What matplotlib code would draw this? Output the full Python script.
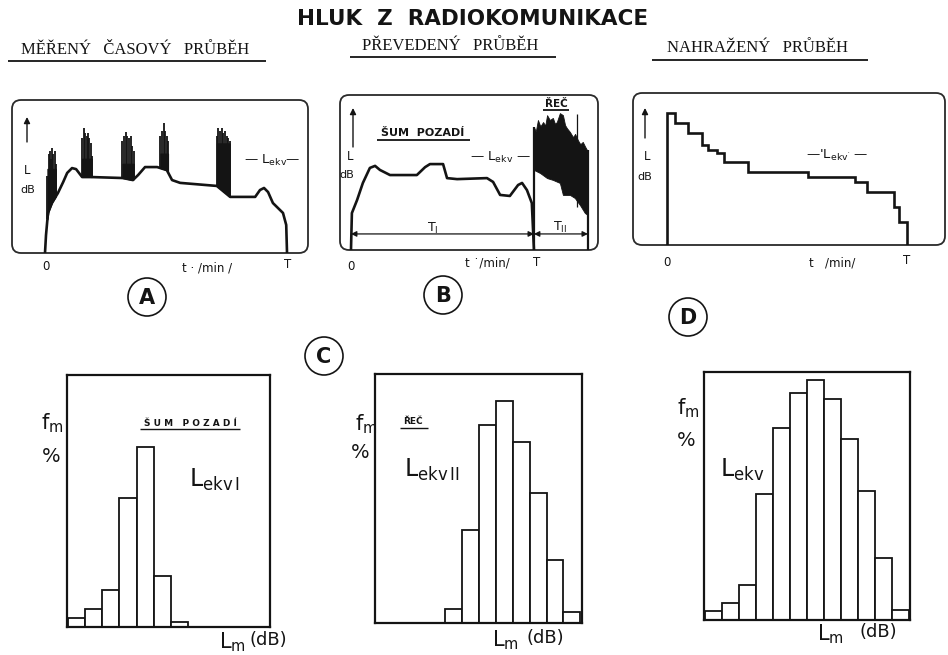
import numpy as np
import matplotlib
matplotlib.use("Agg")
import matplotlib.pyplot as plt
from matplotlib.patches import FancyBboxPatch, Circle

W, H = 948, 655

# ---------------- data ----------------
title = "HLUK  Z  RADIOKOMUNIKACE"
headers = ["MĚŘENÝ   ČASOVÝ   PRŮBĚH", "PŘEVEDENÝ   PRŮBĚH", "NAHRAŽENÝ   PRŮBĚH"]

# Panel A - measured time course (t in min, L in dB)
a_t = [0, 0.25, 0.74, 1.7, 3.2, 4.5, 5.5, 6.7, 7.7, 9.2, 11.2, 19.3, 21.8, 23.1, 24.8,
       27.8, 30.2, 31.5, 33.5, 42.6, 45.9, 52.1, 53.3, 54.3, 55.3, 56.5, 59.0, 59.8, 60]
a_L = [40, 47, 55.7, 59.6, 63.5, 67.8, 71.4, 73.3, 72.9, 69.8, 69.8, 69.4, 68.6, 70.6, 73.7,
       73.7, 72.5, 68.6, 67.5, 66.3, 62.0, 62.0, 64.7, 65.5, 63.9, 59.6, 55.7, 51.0, 40]
# noise bursts: spike times, spike peaks, dense level
a_burst_t = [[0.6, 0.9, 1.2, 1.5, 1.8, 2.1, 2.4, 2.7],
             [9.2, 9.6, 9.9, 10.3, 10.6, 11.0, 11.3, 11.6],
             [19.2, 19.6, 20.0, 20.4, 20.8, 21.2, 21.6, 22.0],
             [28.6, 29.0, 29.4, 29.8, 30.2, 30.5],
             [42.6, 43.0, 43.4, 43.8, 44.2, 44.6, 45.0, 45.4, 45.8]]
a_burst_L = [[70, 79, 80, 77, 81, 79, 80, 75],
             [85, 89, 87, 86, 87, 85, 83, 78],
             [84, 86, 87.5, 86, 85, 86, 82, 80],
             [86, 88, 91, 88, 86, 84],
             [86, 89, 88, 89, 87, 88, 86, 85, 84]]
a_burst_dense = [73, 77, 75, 79, 83]

# Panel B - converted course: background noise + speech
b_t = [0, 0.3, 2.0, 3.9, 6.2, 7.9, 9.5, 12.8, 21.6, 24.3, 25.9, 30.2, 31.5, 34.8, 44.6,
       46.6, 48.9, 52.1, 54.8, 56.1, 57.7, 59.3, 60]
b_L = [40, 54.5, 59.6, 66.3, 72.2, 73, 71.4, 69.4, 69.4, 72.5, 73.7, 73.7, 68.2, 67.8, 68.2,
       66.7, 61.6, 61.2, 65.5, 66.3, 63.5, 58.4, 40]
speech_top_t = [60, 60.6, 61.3, 62.1, 63, 63.7, 64.3, 65.2, 66.2, 66.9, 67.5, 68.5, 69.5,
                70.2, 70.8, 71.8, 72.8, 73.5, 74.4, 75.2, 76, 76.8, 77.4, 77.7]
speech_top_L = [88.2, 86.5, 91, 88.5, 90.2, 88.8, 92.9, 91, 91.8, 89.5, 90.2, 93.7, 92.9,
                89, 87.8, 86.3, 84.3, 85.5, 83.1, 81.5, 82.4, 80.5, 79.2, 79.2]
speech_bot_t = [60, 62, 64.3, 66.2, 68.5, 69.5, 71.8, 73.4, 75.1, 76.7, 77.7]
speech_bot_L = [71.4, 70.2, 68.2, 67.5, 66.3, 61.6, 61.6, 60.4, 57.6, 54.5, 53.7]
b_T, b_end = 60, 77.7

# Panel D - substituted (stepped) course
d_edges = [0, 2.1, 5.3, 8.7, 10.3, 12.4, 14.3, 20.3, 35.3, 47, 49.9, 56.8, 58.1, 60]
d_levels = [91.6, 87.7, 84, 79.2, 77.3, 76, 72.7, 68.7, 66.8, 64.8, 60.9, 55, 49.1]

# Histograms (f_m in %, per L_m class)
h1_bins = [0, 1, 2, 3, 4, 5, 6]
h1_f = [3.6, 7.2, 14.7, 51, 71.3, 20.3, 2]
h2_bins = [4, 5, 6, 7, 8, 9, 10, 11]
h2_f = [5.6, 37.3, 79.5, 89.2, 72.7, 52.2, 25.3, 4.4]
h3_bins = [0, 1, 2, 3, 4, 5, 6, 7, 8, 9, 10, 11]
h3_f = [3.6, 6.9, 14.1, 50.8, 77.4, 91.5, 96.8, 89.1, 73, 52, 25, 4]

INK = "#141414"

fig = plt.figure(figsize=(W / 100, H / 100), dpi=100)
ov = fig.add_axes([0, 0, 1, 1])
ov.set_xlim(0, W)
ov.set_ylim(H, 0)
ov.axis("off")


def px_axes(x0, y0, x1, y1):
    ax = fig.add_axes([x0 / W, 1 - y1 / H, (x1 - x0) / W, (y1 - y0) / H])
    ax.set_facecolor("none")
    return ax


def txt(x, y, s, size=9, **kw):
    kw.setdefault("ha", "center")
    kw.setdefault("va", "center")
    kw.setdefault("color", INK)
    ov.text(x, y, s, fontsize=size, **kw)


def uline(x0, x1, y, lw=1.2):
    ov.plot([x0, x1], [y, y], color=INK, lw=lw, solid_capstyle="butt")


# ---- titles ----
txt(473, 19, title, 15.5, fontweight="bold", family="DejaVu Sans")
hx = [(135, 50, 8, 266, 61), (450, 46, 350, 556, 57), (758, 48, 652, 868, 60)]
for s, (cx, cy, u0, u1, uy) in zip(headers, hx):
    txt(cx, cy, s, 12, family="Liberation Serif", fontstretch="condensed")
    uline(u0, u1, uy, 1.3)

# ---- frames for top panels ----
for (x0, y0, x1, y1) in [(12, 100, 308, 253), (340, 95, 598, 250), (633, 93, 945, 245)]:
    ov.add_patch(FancyBboxPatch((x0, y0), x1 - x0, y1 - y0,
                                boxstyle="round,pad=0,rounding_size=9",
                                fill=False, ec="#2a2a2a", lw=1.3))

# ---- Panel A ----
axA = px_axes(12, 100, 308, 253)
axA.set_xlim(-8.18, 65.2)
axA.set_ylim(40, 100)
axA.axis("off")
axA.plot(a_t, a_L, color=INK, lw=1.9, solid_joinstyle="round")
for bt, bl, dense in zip(a_burst_t, a_burst_L, a_burst_dense):
    bt = np.asarray(bt)
    base = np.interp(bt, a_t, a_L)
    axA.fill_between(bt, base, np.maximum(base, dense), color=INK, lw=0.8)
    axA.vlines(bt, base, bl, color=INK, lw=1.3)

# ---- Panel B ----
axB = px_axes(340, 95, 598, 250)
axB.set_xlim(-3.6, 81.0)
axB.set_ylim(40, 100.8)
axB.axis("off")
axB.plot(b_t, b_L, color=INK, lw=1.9, solid_joinstyle="round")
tt = np.union1d(speech_top_t, speech_bot_t)
axB.fill_between(tt, np.interp(tt, speech_bot_t, speech_bot_L),
                 np.interp(tt, speech_top_t, speech_top_L), color=INK, lw=0.6)
axB.vlines([b_T], 40, speech_top_L[0], color=INK, lw=1.6)
axB.vlines([b_end], 40, speech_top_L[-1], color=INK, lw=1.6)
axB.vlines([74.1], 57, 93.5, color=INK, lw=0.9)
arrow_L = 46.3
axB.annotate("", xy=(0, arrow_L), xytext=(b_T, arrow_L),
             arrowprops=dict(arrowstyle="<|-|>", color=INK, lw=0.9,
                             mutation_scale=8, shrinkA=0, shrinkB=0))
axB.annotate("", xy=(b_T, arrow_L), xytext=(b_end, arrow_L),
             arrowprops=dict(arrowstyle="<|-|>", color=INK, lw=0.9,
                             mutation_scale=8, shrinkA=0, shrinkB=0))

# ---- Panel D ----
axD = px_axes(633, 93, 945, 245)
axD.set_xlim(-8.5, 69.5)
axD.set_ylim(40, 99.6)
axD.axis("off")
axD.stairs(d_levels, d_edges, baseline=40, color=INK, lw=1.9)

# ---- panel annotations ----
for (ax_x, y_top, y_bot, lx, ly, dbx, dby) in [(27, 117, 142, 27, 170, 28, 190),
                                               (353, 108, 147, 350, 157, 347, 175),
                                               (645, 108, 138, 647, 157, 645, 177)]:
    ov.annotate("", xy=(ax_x, y_top), xytext=(ax_x, y_bot),
                arrowprops=dict(arrowstyle="-|>", color=INK, lw=1.0, mutation_scale=9,
                                shrinkA=0, shrinkB=0))
    txt(lx, ly, "L", 8.5)
    txt(dbx, dby, "dB", 8)

txt(46, 266, "0", 8.5)
txt(207, 268, "t · /min /", 8.5)
txt(288, 264, "T", 8.5)
txt(272, 160, r"— $\mathregular{L_{ekv}}$—", 9.5)

txt(351, 266, "0", 8.5)
txt(487, 263, "t ˙/min/", 8.5)
txt(537, 262, "T", 8.5)
txt(500, 157, r"— $\mathregular{L_{ekv}}$ —", 9.5)
txt(423, 133, "ŠUM  POZADÍ", 8, fontweight="bold")
uline(377, 470, 140, 1.3)
txt(556, 104, "ŘEČ", 7.5, fontweight="bold")
uline(543, 569, 110, 1.3)
txt(433, 228, r"$\mathregular{T_I}$", 9)
txt(560, 227, r"$\mathregular{T_{II}}$", 9)

txt(667, 263, "0", 8.5)
txt(832, 263, "t   /min/", 8.5)
txt(907, 261, "T", 8.5)
txt(837, 155, r"—'$\mathregular{L_{ekv'}}$ —", 9.5)

# ---- circled letters ----
for (cx, cy, s) in [(147, 297, "A"), (443, 295, "B"), (324, 356, "C"), (688, 317, "D")]:
    ov.add_patch(Circle((cx, cy), 19, fill=False, ec=INK, lw=1.2))
    txt(cx, cy + 1, s, 15, fontweight="bold")

# ---- histograms ----
hists = [((67, 375, 270, 627), h1_bins, h1_f, (-0.05, 11.75)),
         ((375, 374, 582, 623), h2_bins, h2_f, (-0.15, 12.1)),
         ((704, 372, 910, 620), h3_bins, h3_f, (-0.05, 12.05))]
for (rect, bins, f, xl) in hists:
    ax = px_axes(*rect)
    ax.bar(bins, f, width=1, align="edge", facecolor="white", edgecolor=INK, lw=1.3)
    ax.set_xlim(*xl)
    ax.set_ylim(0, 100)
    ax.set_xticks([])
    ax.set_yticks([])
    for sp in ax.spines.values():
        sp.set_linewidth(1.6)
        sp.set_color(INK)

# labels around histograms
for (fx, fy, px_, py) in [(52, 423, 51, 457), (366, 424, 360, 452), (688, 408, 686, 440)]:
    txt(fx, fy, r"$\mathregular{f_m}$", 15)
    txt(px_, py, "%", 14)
for (lx, dx, y) in [(232, 268, 642), (505, 545, 640), (830, 878, 634)]:
    txt(lx, y, r"$\mathregular{L_m}$", 15)
    txt(dx, y - 2, "(dB)", 13)

txt(190, 423, "Š U M   P O Z A D Í", 6.5, fontweight="bold")
uline(140, 240, 429, 1.0)
txt(214, 480, r"$\mathregular{L_{ekv\,I}}$", 17)
txt(413, 422, "ŘEČ", 6.5, fontweight="bold")
uline(400, 428, 428, 1.0)
txt(432, 470, r"$\mathregular{L_{ekv\,II}}$", 17)
txt(742, 470, r"$\mathregular{L_{ekv}}$", 17)

fig.savefig("out.png", dpi=100)
